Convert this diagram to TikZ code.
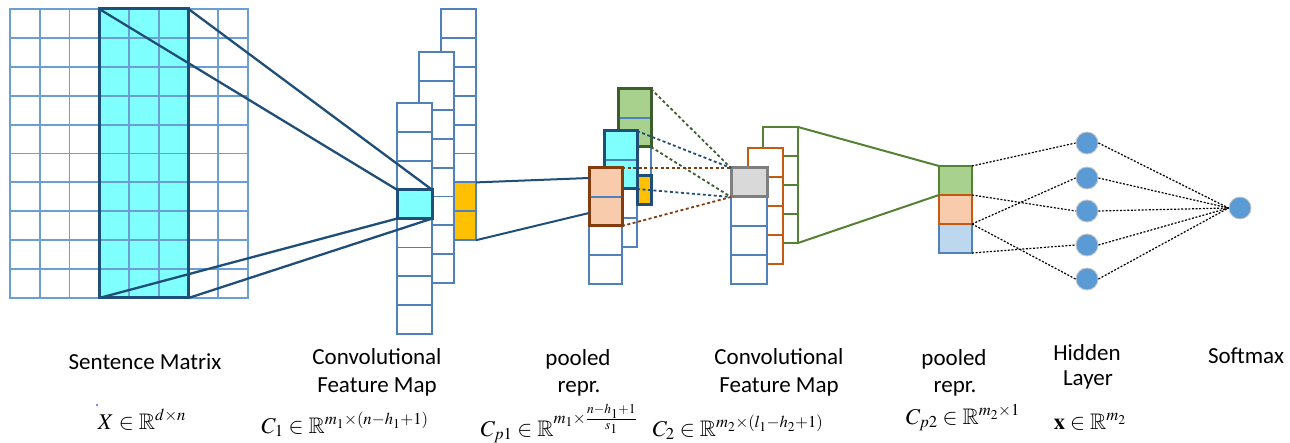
\documentclass[tikz,border=0pt]{standalone}
\usepackage{amssymb}
\usepackage{mathptmx}
\usepackage[no-math]{fontspec}
\setmainfont{Carlito}
\usetikzlibrary{calc}
\definecolor{gridblue}{HTML}{6A9FD6}
\definecolor{colblue}{HTML}{4F81BD}
\definecolor{darkblue}{HTML}{1F4E79}
\definecolor{cyanf}{HTML}{80FFFF}
\definecolor{goldf}{HTML}{FFC000}
\definecolor{peachf}{HTML}{F8CBAD}
\definecolor{brownb}{HTML}{843C0C}
\definecolor{greenf}{HTML}{A9D18E}
\definecolor{dkgreen}{HTML}{3B5E2B}
\definecolor{midgreen}{HTML}{548235}
\definecolor{orangeb}{HTML}{C55A11}
\definecolor{grayf}{HTML}{D9D9D9}
\definecolor{grayb}{HTML}{7F7F7F}
\definecolor{lbluef}{HTML}{BDD7EE}
\definecolor{nodeblue}{HTML}{5B9BD5}
\begin{document}
\begin{tikzpicture}[x=1pt,y=-1pt,
  gridln/.style={draw=gridblue, line width=1.9pt},
  cellst/.style={draw=colblue, fill=white, line width=1.9pt},
  box/.style={inner sep=0pt, outer sep=0pt, anchor=north west},
  hlline/.style={draw=darkblue, line width=2.3pt},
  cdash/.style={line width=1.8pt, dash pattern=on 3pt off 2.5pt},
  bdot/.style={draw=black, line width=1.2pt, dash pattern=on 2pt off 1.6pt},
  neuron/.style={circle, fill=nodeblue, draw=black!22, line width=0.9pt, minimum size=22pt, inner sep=0pt},
  lbl/.style={font=\fontsize{23}{28}\selectfont, inner sep=0pt, anchor=base},
  mlbl/.style={font=\fontsize{22.5}{26}\selectfont, inner sep=0pt, anchor=base}
]
\useasboundingbox (0,0) rectangle (1290,443);

% ---------- sentence matrix ----------
\fill[cyanf] (99.25,9) rectangle (188.5,298);
\foreach \i in {0,...,8} \draw[gridln] (10+\i*29.75,9) -- (10+\i*29.75,298);
\foreach \j in {0,...,10} \draw[gridln] (9.1,9+\j*28.9) -- (248.9,9+\j*28.9);
\node[box, draw=darkblue, line width=3pt, minimum width=89.25pt, minimum height=289pt] (hl) at (99.25,9) {};

% ---------- first convolutional feature map ----------
\foreach \i in {0,...,7} \draw[cellst] (441,9+\i*28.9) rectangle ++(35,28.9);
\foreach \i in {6,7} \draw[cellst, fill=goldf] (441,9+\i*28.9) rectangle ++(35,28.9);
\node[box, minimum width=35pt, minimum height=57.8pt] (gd) at (441,182.4) {};
\foreach \i in {0,...,7} \draw[cellst] (419,52+\i*28.9) rectangle ++(35,28.9);
\foreach \i in {0,...,7} \draw[cellst] (397,103+\i*28.9) rectangle ++(35,28.9);
\node[box, draw=darkblue, fill=cyanf, line width=3pt, minimum width=35pt, minimum height=28.9pt] (cc) at (397,189.7) {};

\draw[hlline] (hl.north west) -- (cc.north west);
\draw[hlline] (hl.north east) -- (cc.north east);
\draw[hlline] (hl.south west) -- (cc.south west);
\draw[hlline] (hl.south east) -- (cc.south east);

% ---------- first pooled representation ----------
% back (green) column
\foreach \i in {0,...,3} \draw[cellst] (618,89+\i*29) rectangle ++(33,29);
\node[box, fill=greenf, minimum width=33pt, minimum height=58pt] (gr) at (618,89) {};
\draw[colblue, line width=1.8pt] (gr.west) -- (gr.east);
\draw[dkgreen, line width=3pt] (gr.north west) rectangle (gr.south east);
% middle (cyan) column
\foreach \i in {0,...,3} \draw[cellst] (604,131+\i*29) rectangle ++(33,29);
\node[box, fill=cyanf, minimum width=33pt, minimum height=58pt] (cy) at (604,131) {};
\draw[colblue, line width=1.8pt] (cy.west) -- (cy.east);
\draw[darkblue, line width=3pt] (cy.north west) rectangle (cy.south east);
\node[box, draw=darkblue, fill=goldf, line width=3pt, minimum width=14pt, minimum height=29pt] (gd2) at (637,176) {};
% front (peach) column
\foreach \i in {0,...,3} \draw[cellst] (589,168+\i*29) rectangle ++(33,29);
\node[box, fill=peachf, minimum width=33pt, minimum height=58pt] (pk) at (589,168) {};
\draw[colblue, line width=1.8pt] (pk.west) -- (pk.east);
\draw[brownb, line width=3pt] (pk.north west) rectangle (pk.south east);

\draw[darkblue, line width=2pt] (gd.north east) -- ($(pk.north west)+(0,10)$);
\draw[darkblue, line width=2pt] (gd.south east) -- ($(pk.south west)+(0,-13)$);

% ---------- second convolutional feature map ----------
\foreach \i in {0,...,3} \draw[cellst, draw=midgreen] (763,127+\i*29) rectangle ++(35,29);
\node[box, minimum width=35pt, minimum height=116pt] (c2g) at (763,127) {};
\foreach \i in {0,...,3} \draw[cellst, draw=orangeb] (748,148+\i*29) rectangle ++(35,29);
\foreach \i in {1,...,3} \draw[cellst] (731,168+\i*29) rectangle ++(36,29);
\node[box, draw=grayb, fill=grayf, line width=3pt, minimum width=36pt, minimum height=29pt] (gy) at (731,168) {};

\draw[dkgreen, cdash] (gr.north east) -- (gy.north west);
\draw[dkgreen, cdash] (gr.south east) -- (gy.south west);
\draw[darkblue, cdash] (cy.north east) -- (gy.north west);
\draw[darkblue, cdash] (cy.south east) -- (gy.south west);
\draw[brownb, cdash] (pk.north east) -- (gy.north west);
\draw[brownb, cdash] (pk.south east) -- (gy.south west);

% ---------- second pooled representation ----------
\node[box, draw=midgreen, fill=greenf, line width=2.5pt, minimum width=33pt, minimum height=29pt] (pg) at (939,166) {};
\node[box, draw=colblue, fill=lbluef, line width=2.5pt, minimum width=33pt, minimum height=29pt] (pb) at (939,224) {};
\node[box, draw=orangeb, fill=peachf, line width=2.5pt, minimum width=33pt, minimum height=29pt] (po) at (939,195) {};

\draw[midgreen, line width=2pt] (c2g.north east) -- (pg.north west);
\draw[midgreen, line width=2pt] (c2g.south east) -- (pg.south west);

% ---------- hidden layer and softmax ----------
\node[neuron] (h1) at (1087,143) {};
\node[neuron] (h2) at (1087,178) {};
\node[neuron] (h3) at (1087,211) {};
\node[neuron] (h4) at (1087,245) {};
\node[neuron] (h5) at (1087,279) {};
\node[neuron] (sm) at (1240,208) {};

\draw[bdot] (pg.north east) -- (h1.west);
\draw[bdot] (pg.south east) -- (h3.west);
\draw[bdot] (po.south east) -- (h2.west);
\draw[bdot] (po.south east) -- (h5.west);
\draw[bdot] (pb.south east) -- (h4.west);
\foreach \k in {1,...,5} \draw[bdot] (h\k.east) -- (sm.west);

% ---------- labels ----------
\node[lbl] (t1) at (145,370) {Sentence Matrix};
\node[lbl] (t2a) at (377,364) {Convolutional};
\node[lbl] (t2b) at (377,392) {Feature Map};
\node[lbl] (t3a) at (578,366) {pooled};
\node[lbl] (t3b) at (579,392) {repr.};
\node[lbl] (t4a) at (779,364) {Convolutional};
\node[lbl] (t4b) at (779,392) {Feature Map};
\node[lbl] (t5a) at (954,366) {pooled};
\node[lbl] (t5b) at (955,392) {repr.};
\node[lbl] (t6a) at (1087,360) {Hidden};
\node[lbl] (t6b) at (1088,385) {Layer};
\node[lbl] (t7) at (1246,363) {Softmax};

\fill[blue] (97,405) circle (0.8);
\node[mlbl] (m1) at (142,429) {$X \in \mathbb{R}^{d\times n}$};
\node[mlbl] (m2) at (345,433) {$C_1 \in \mathbb{R}^{m_1\times(n-h_1+1)}$};
\node[mlbl] (m3) at (559,436) {$C_{p1} \in \mathbb{R}^{m_1\times\frac{n-h_1+1}{s_1}}$};
\node[mlbl] (m4) at (738,436) {$C_2 \in \mathbb{R}^{m_2\times(l_1-h_2+1)}$};
\node[mlbl] (m5) at (963,424) {$C_{p2} \in \mathbb{R}^{m_2\times 1}$};
\node[mlbl] (m6) at (1090,429) {$\mathbf{x} \in \mathbb{R}^{m_2}$};
\end{tikzpicture}
\end{document}
